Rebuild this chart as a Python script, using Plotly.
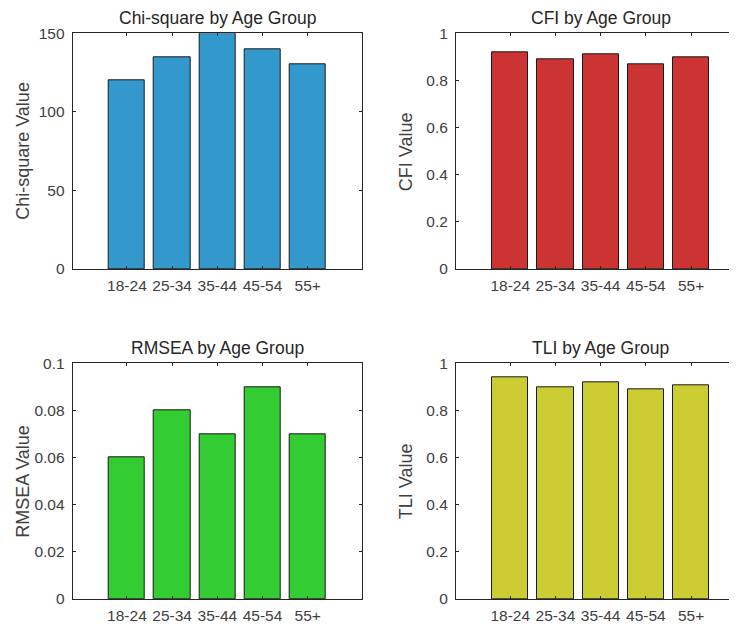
import plotly.graph_objects as go

age_groups = ["18-24", "25-34", "35-44", "45-54", "55+"]
chi_square = [120, 135, 150, 140, 130]
cfi = [0.92, 0.89, 0.91, 0.87, 0.90]
rmsea = [0.06, 0.08, 0.07, 0.09, 0.07]
tli = [0.94, 0.90, 0.92, 0.89, 0.905]

titles = ["Chi-square by Age Group", "CFI by Age Group", "RMSEA by Age Group", "TLI by Age Group"]
ylabels = ["Chi-square Value", "CFI Value", "RMSEA Value", "TLI Value"]
colors = ["#3399CC", "#CC3333", "#33CC33", "#CCCC33"]
series = [chi_square, cfi, rmsea, tli]
yranges = [[0, 150], [0, 1], [0, 0.1], [0, 1]]
ydticks = [50, 0.2, 0.02, 0.2]

# the page body has an 8px margin, so the figure starts 8px in from the window corner
OFF = 8
W, H = 740, 620
FONT = "Liberation Sans, Arial, Helvetica, sans-serif"
TXT = "#262626"

AXW = 289.3  # axes box width in px (x range -0.2 .. 6.2)
boxes = [  # (left, top, bottom) in window px
    (72.7, 33.3, 269),
    (456, 33.3, 269),
    (72.7, 363.3, 599),
    (456, 363.3, 599),
]

def fx(p):
    return (p - OFF) / W

def fy(p):
    return 1 - (p - OFF) / H

fig = go.Figure()
xpos = list(range(1, len(age_groups) + 1))
for i, (vals, col) in enumerate(zip(series, colors)):
    n = "" if i == 0 else str(i + 1)
    fig.add_trace(go.Bar(
        x=xpos, y=vals, width=0.8,
        marker=dict(color=col, line=dict(color="#1a1a1a", width=1)),
        xaxis="x" + n, yaxis="y" + n, showlegend=False, hoverinfo="y",
    ))
    l, t, b = boxes[i]
    r = l + AXW
    fig.layout["xaxis" + n] = dict(
        domain=[fx(l), fx(r)], range=[-0.2, 6.2], anchor="y" + n,
        tickmode="array", tickvals=xpos, ticktext=age_groups,
        ticks="inside", ticklen=3, tickcolor=TXT, tickwidth=1,
        showline=True, linecolor=TXT, linewidth=1, mirror="ticks",
        showgrid=False, zeroline=False, fixedrange=True, automargin=False,
        tickfont=dict(family=FONT, size=15.5, color="#404040"),
        ticklabelstandoff=2,
    )
    fig.layout["yaxis" + n] = dict(
        domain=[fy(b), fy(t)], range=yranges[i], anchor="x" + n,
        dtick=ydticks[i], tick0=0,
        ticks="inside", ticklen=3, tickcolor=TXT, tickwidth=1,
        showline=True, linecolor=TXT, linewidth=1, mirror="ticks",
        showgrid=False, zeroline=False, fixedrange=True, automargin=False,
        tickfont=dict(family=FONT, size=15.5, color="#404040"),
        ticklabelstandoff=4,
    )
    fig.add_annotation(
        text=titles[i], xref="paper", yref="paper",
        x=fx(l + AXW / 2), y=fy(t - 3),
        xanchor="center", yanchor="bottom", showarrow=False,
        font=dict(family=FONT, size=17.5, color=TXT),
    )
    fig.add_annotation(
        text=ylabels[i], xref="paper", yref="paper",
        x=fx(l - 50), y=fy((t + b) / 2), textangle=-90,
        xanchor="center", yanchor="middle", showarrow=False,
        font=dict(family=FONT, size=18, color="#404040"),
    )

fig.update_layout(
    width=W, height=H, margin=dict(l=0, r=0, t=0, b=0, autoexpand=False),
    paper_bgcolor="white", plot_bgcolor="white", bargap=0,
)
fig.write_html("out.html")
